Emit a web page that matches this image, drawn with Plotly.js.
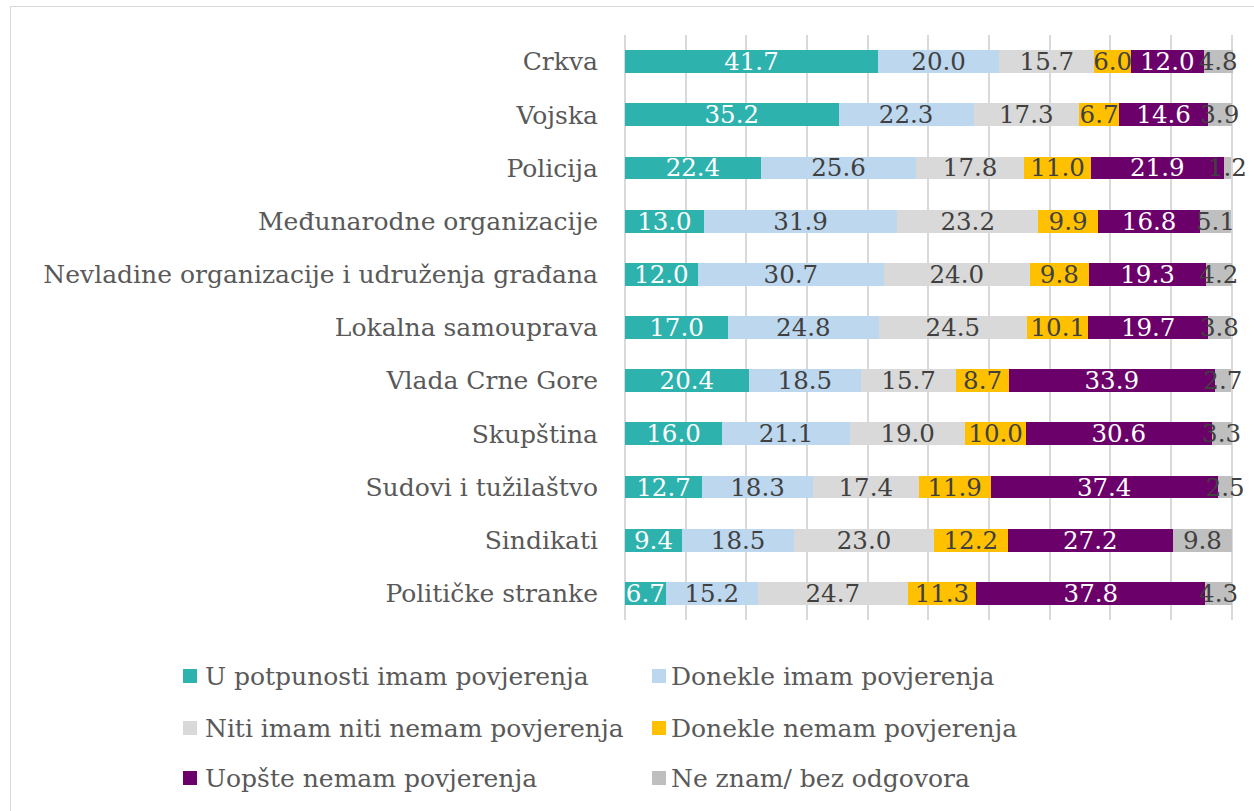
<!DOCTYPE html>
<html>
<head>
<meta charset="utf-8">
<script src="https://cdn.plot.ly/plotly-3.0.1.min.js"></script>
<style>
  html, body { margin: 0; padding: 0; background: #fff; }
  #wrap { position: relative; width: 1254px; height: 811px; }
  #chart { width: 1254px; height: 811px; }
  #frame { position: absolute; left: 10px; top: 6px; width: 1260px; height: 830px; border: 1px solid #d9d9d9; pointer-events: none; }
</style>
</head>
<body>
<div id="wrap"><div id="chart"></div><div id="frame"></div></div>
<script>
const categories = [
  "Crkva",
  "Vojska",
  "Policija",
  "Međunarodne organizacije",
  "Nevladine organizacije i udruženja građana",
  "Lokalna samouprava",
  "Vlada Crne Gore",
  "Skupština",
  "Sudovi i tužilaštvo",
  "Sindikati",
  "Političke stranke"
];
const seriesNames = [
  "U potpunosti imam povjerenja",
  "Donekle imam povjerenja",
  "Niti imam niti nemam povjerenja",
  "Donekle nemam povjerenja",
  "Uopšte nemam povjerenja",
  "Ne znam/ bez odgovora"
];
const uPotpunosti = [41.7, 35.2, 22.4, 13.0, 12.0, 17.0, 20.4, 16.0, 12.7, 9.4, 6.7];
const donekleImam = [20.0, 22.3, 25.6, 31.9, 30.7, 24.8, 18.5, 21.1, 18.3, 18.5, 15.2];
const nitiNiti    = [15.7, 17.3, 17.8, 23.2, 24.0, 24.5, 15.7, 19.0, 17.4, 23.0, 24.7];
const donekleNemam= [6.0, 6.7, 11.0, 9.9, 9.8, 10.1, 8.7, 10.0, 11.9, 12.2, 11.3];
const uopsteNemam = [12.0, 14.6, 21.9, 16.8, 19.3, 19.7, 33.9, 30.6, 37.4, 27.2, 37.8];
const neZnam      = [4.8, 3.9, 1.2, 5.1, 4.2, 3.8, 2.7, 3.3, 2.5, 9.8, 4.3];

const seriesValues = [uPotpunosti, donekleImam, nitiNiti, donekleNemam, uopsteNemam, neZnam];
const colors = ["#2EB2AE", "#BDD7EE", "#D9D9D9", "#FFC000", "#6C006B", "#BFBFBF"];
const textColors = ["#ffffff", "#404040", "#404040", "#404040", "#ffffff", "#404040"];
const FONT = "DejaVu Serif, Liberation Serif, serif";

const traces = seriesValues.map((vals, i) => ({
  type: "bar",
  orientation: "h",
  name: seriesNames[i],
  y: categories,
  x: vals,
  marker: { color: colors[i], line: { width: 0 } },
  text: vals.map(v => v.toFixed(1)),
  textposition: "inside",
  insidetextanchor: "middle",
  textangle: 0,
  constraintext: "none",
  cliponaxis: false,
  insidetextfont: { family: FONT, size: 24.5, color: textColors[i] },
  hoverinfo: "x+name"
}));

// plot area geometry (pixels); x range slightly beyond 100 so totals of 100.2 are not cut
const XMAX = 100.4;
const L = 625, T = 35, B = 620;
const R = Math.round(L + 607 * XMAX / 100);
const px = x => (x - L) / (R - L);
const py = y => (B - y) / (B - T);

const legendCols = [{ sw: 183, tx: 203 }, { sw: 652, tx: 669 }];
const legendRows = [676, 728, 778];
const shapes = [];
const annotations = [];
seriesNames.forEach((name, i) => {
  const c = legendCols[i % 2];
  const r = legendRows[Math.floor(i / 2)];
  shapes.push({
    type: "rect", xref: "paper", yref: "paper",
    x0: px(c.sw), x1: px(c.sw + 14), y0: py(r + 7), y1: py(r - 7),
    fillcolor: colors[i], line: { width: 0 }
  });
  annotations.push({
    xref: "paper", yref: "paper", x: px(c.tx), y: py(r),
    xanchor: "left", yanchor: "middle", showarrow: false,
    text: name, font: { family: FONT, size: 25, color: "#595959" }
  });
});

const layout = {
  width: 1254, height: 811,
  margin: { l: L, r: 1254 - R, t: T, b: 811 - B, pad: 0 },
  barmode: "stack",
  bargap: 0.57,
  showlegend: false,
  paper_bgcolor: "#ffffff",
  plot_bgcolor: "#ffffff",
  font: { family: FONT, size: 25, color: "#595959" },
  xaxis: {
    range: [0, XMAX],
    tick0: 0, dtick: 10,
    showgrid: true, gridcolor: "#d9d9d9", gridwidth: 1.5,
    zeroline: true, zerolinecolor: "#d9d9d9", zerolinewidth: 1.5,
    showticklabels: false, ticks: "", showline: false,
    fixedrange: true
  },
  yaxis: {
    type: "category",
    autorange: "reversed",
    ticks: "",
    showgrid: false, zeroline: false, showline: false,
    ticklabelstandoff: 26,
    tickfont: { family: FONT, size: 25, color: "#595959" },
    automargin: false,
    fixedrange: true
  },
  shapes: shapes,
  annotations: annotations
};

Plotly.newPlot("chart", traces, layout, { displayModeBar: false, responsive: false });
</script>
</body>
</html>
